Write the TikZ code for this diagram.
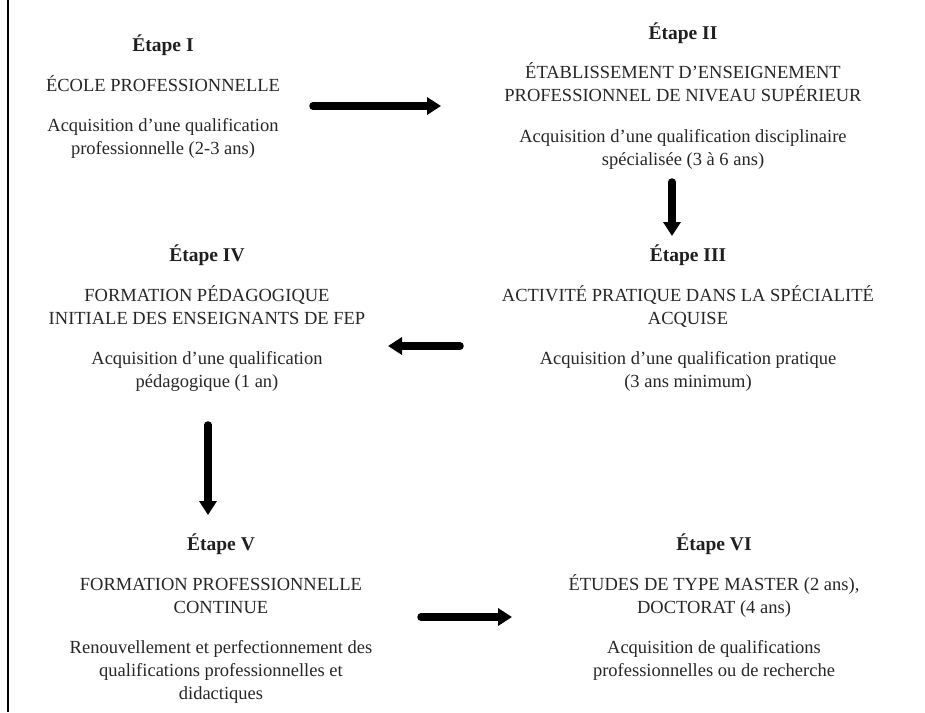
\documentclass[tikz,border=0pt]{standalone}
\usepackage{fontspec}
\setmainfont{Liberation Serif}
\usetikzlibrary{arrows.meta}

\begin{document}
\begin{tikzpicture}[x=1pt,y=-1pt,
  stagetitle/.style={font=\bfseries\fontsize{19.5}{23}\selectfont, anchor=base, inner sep=0pt, text=black!88},
  stagebody/.style={font=\fontsize{18.5}{23}\selectfont, align=center, anchor=base, inner sep=0pt, text=black!85},
  flow/.style={line width=7.5pt, line cap=round, -{Triangle[length=14pt,width=17pt]}}]
\useasboundingbox (0,0) rectangle (925,712);

% left rule
\coordinate (ruletop) at (8,0);
\coordinate (rulebot) at (8,712);
\draw[line width=1.2pt] (ruletop) -- (rulebot);

% multi-line nodes are placed by the baseline of their last line

% Stage I
\node[stagetitle] (t1) at (163,51) {Étape I};
\node[stagebody]  (a1) at (163,91) {ÉCOLE PROFESSIONNELLE};
\node[stagebody]  (b1) at (163,154) {Acquisition d’une qualification\\professionnelle (2-3 ans)};

% Stage II
\node[stagetitle] (t2) at (683,39) {Étape II};
\node[stagebody]  (a2) at (683,101) {ÉTABLISSEMENT D’ENSEIGNEMENT\\PROFESSIONNEL DE NIVEAU SUPÉRIEUR};
\node[stagebody]  (b2) at (683,165) {Acquisition d’une qualification disciplinaire\\spécialisée (3 à 6 ans)};

% Stage III
\node[stagetitle] (t3) at (688,261) {Étape III};
\node[stagebody]  (a3) at (688,324) {ACTIVITÉ PRATIQUE DANS LA SPÉCIALITÉ\\ACQUISE};
\node[stagebody]  (b3) at (688,387) {Acquisition d’une qualification pratique\\(3 ans minimum)};

% Stage IV
\node[stagetitle] (t4) at (207,261) {Étape IV};
\node[stagebody]  (a4) at (207,324) {FORMATION PÉDAGOGIQUE\\INITIALE DES ENSEIGNANTS DE FEP};
\node[stagebody]  (b4) at (207,387) {Acquisition d’une qualification\\pédagogique (1 an)};

% Stage V
\node[stagetitle] (t5) at (221,550) {Étape V};
\node[stagebody]  (a5) at (221,613) {FORMATION PROFESSIONNELLE\\CONTINUE};
\node[stagebody]  (b5) at (221,699) {Renouvellement et perfectionnement des\\qualifications professionnelles et\\didactiques};

% Stage VI
\node[stagetitle] (t6) at (714,550) {Étape VI};
\node[stagebody]  (a6) at (714,613) {ÉTUDES DE TYPE MASTER (2 ans),\\DOCTORAT (4 ans)};
\node[stagebody]  (b6) at (714,676) {Acquisition de qualifications\\professionnelles ou de recherche};

% arrow end points
\coordinate (f1s) at (313,106);  \coordinate (f1e) at (441,106);
\coordinate (f2s) at (672,182);  \coordinate (f2e) at (672,236);
\coordinate (f3s) at (460,346);  \coordinate (f3e) at (388,346);
\coordinate (f4s) at (208,425);  \coordinate (f4e) at (208,515);
\coordinate (f5s) at (421,617);  \coordinate (f5e) at (512,617);

\draw[flow] (f1s) -- (f1e);
\draw[flow] (f2s) -- (f2e);
\draw[flow] (f3s) -- (f3e);
\draw[flow] (f4s) -- (f4e);
\draw[flow] (f5s) -- (f5e);
\end{tikzpicture}
\end{document}
